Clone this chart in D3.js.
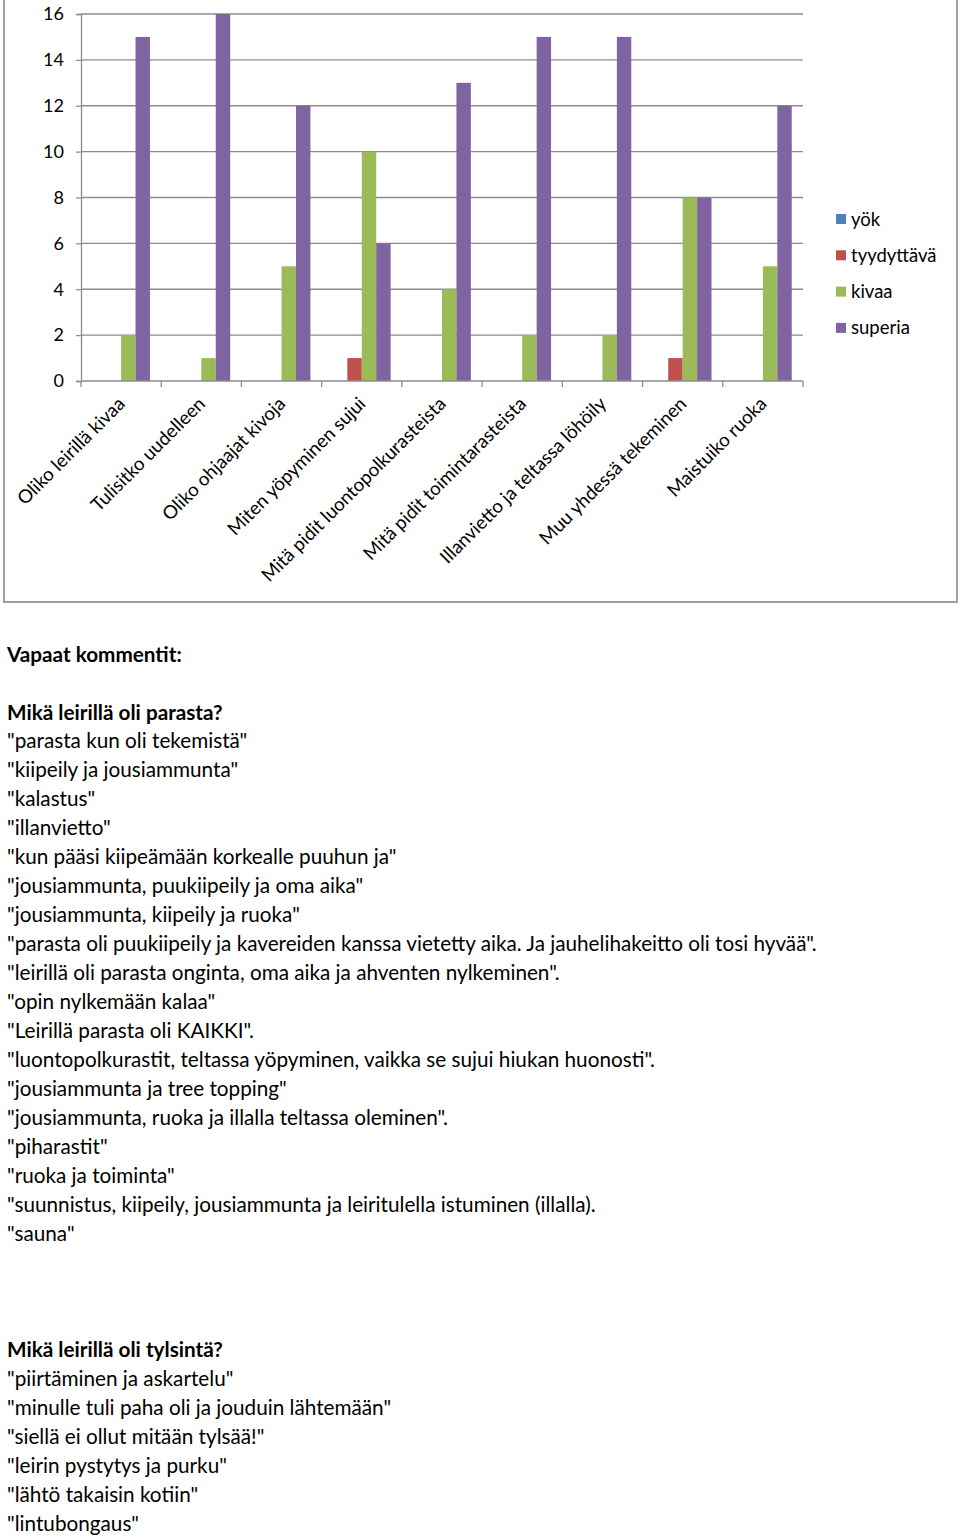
<!DOCTYPE html>
<html><head><meta charset="utf-8">
<script src="https://cdn.jsdelivr.net/npm/d3@7"></script>
<style>
html,body{margin:0;padding:0;background:#fff;}
svg{display:block;}
text{font-family:Lato,"Open Sans",sans-serif;fill:#000;}
</style></head>
<body>
<script>
const categories = ["Oliko leirillä kivaa","Tulisitko uudelleen","Oliko ohjaajat kivoja","Miten yöpyminen sujui","Mitä pidit luontopolkurasteista","Mitä pidit toimintarasteista","Illanvietto ja teltassa löhöily","Muu yhdessä tekeminen","Maistuiko ruoka"];
const seriesNames = ["yök","tyydyttävä","kivaa","superia"];
const yok        = [0,0,0,0,0,0,0,0,0];
const tyydyttava = [0,0,0,1,0,0,0,1,0];
const kivaa      = [2,1,5,10,4,2,2,8,5];
const superia    = [15,16,12,6,13,15,15,8,12];
const yTicks = [0,2,4,6,8,10,12,14,16];
const colors = ["#4F81BD","#C0504D","#9BBB59","#8064A2"];

const heading = "Vapaat kommentit:";
const q1 = "Mikä leirillä oli parasta?";
const answers1 = [
 "\"parasta kun oli tekemistä\"",
 "\"kiipeily ja jousiammunta\"",
 "\"kalastus\"",
 "\"illanvietto\"",
 "\"kun pääsi kiipeämään korkealle puuhun ja\"",
 "\"jousiammunta, puukiipeily ja oma aika\"",
 "\"jousiammunta, kiipeily ja ruoka\"",
 "\"parasta oli puukiipeily ja kavereiden kanssa vietetty aika. Ja jauhelihakeitto oli tosi hyvää\".",
 "\"leirillä oli parasta onginta, oma aika ja ahventen nylkeminen\".",
 "\"opin nylkemään kalaa\"",
 "\"Leirillä parasta oli KAIKKI\".",
 "\"luontopolkurastit, teltassa yöpyminen, vaikka se sujui hiukan huonosti\".",
 "\"jousiammunta ja tree topping\"",
 "\"jousiammunta, ruoka ja illalla teltassa oleminen\".",
 "\"piharastit\"",
 "\"ruoka ja toiminta\"",
 "\"suunnistus, kiipeily, jousiammunta ja leiritulella istuminen (illalla).",
 "\"sauna\""
];
const q2 = "Mikä leirillä oli tylsintä?";
const answers2 = [
 "\"piirtäminen ja askartelu\"",
 "\"minulle tuli paha oli ja jouduin lähtemään\"",
 "\"siellä ei ollut mitään tylsää!\"",
 "\"leirin pystytys ja purku\"",
 "\"lähtö takaisin kotiin\"",
 "\"lintubongaus\""
];

const data = categories.map((c,i)=>({cat:c, vals:[yok[i],tyydyttava[i],kivaa[i],superia[i]]}));

const W=960,H=1537;
const svg = d3.select("body").append("svg").attr("width",W).attr("height",H);

// chart frame
svg.append("rect").attr("x",4).attr("y",-3).attr("width",953).attr("height",605)
  .attr("fill","none").attr("stroke","#a0a0a0").attr("stroke-width",2);

const x0 = d3.scaleBand().domain(categories).range([81,803]).paddingInner(0).paddingOuter(0);
const x1 = d3.scaleBand().domain(seriesNames).range([0,x0.bandwidth()]).paddingInner(0).paddingOuter(0.78);
const y = d3.scaleLinear().domain([0,16]).range([381,14]);
const color = d3.scaleOrdinal().domain(seriesNames).range(colors);

// gridlines
svg.append("g").selectAll("line").data(yTicks.filter(t=>t>0)).join("line")
  .attr("x1",81).attr("x2",803).attr("y1",d=>y(d)).attr("y2",d=>y(d))
  .attr("stroke","#8c8c8c").attr("stroke-width",1.3);

// y axis
const yAxis = svg.append("g").attr("transform","translate(81,0)")
  .call(d3.axisLeft(y).tickValues(yTicks).tickSize(5).tickPadding(12));
yAxis.select(".domain").attr("stroke","#8c8c8c").attr("stroke-width",1.3);
yAxis.selectAll(".tick line").attr("stroke","#8c8c8c").attr("stroke-width",1.3);
yAxis.selectAll(".tick text").style("font-family","Lato,sans-serif").style("font-size","18px").attr("fill","#000");

// bars
const groups = svg.append("g").selectAll("g").data(data).join("g")
  .attr("transform",d=>`translate(${x0(d.cat)},0)`);
groups.selectAll("rect").data(d=>d.vals.map((v,j)=>({s:seriesNames[j],v}))).join("rect")
  .attr("x",d=>x1(d.s)).attr("width",x1.bandwidth())
  .attr("y",d=>y(d.v)).attr("height",d=>y(0)-y(d.v))
  .attr("fill",d=>color(d.s));

// x axis
const xAxisG = svg.append("g");
xAxisG.append("line").attr("x1",81).attr("x2",803).attr("y1",y(0)).attr("y2",y(0))
  .attr("stroke","#8c8c8c").attr("stroke-width",1.3);
const boundaries = categories.map(c=>x0(c)).concat([x0.range()[1]]);
xAxisG.selectAll("line.tk").data(boundaries).join("line").attr("class","tk")
  .attr("x1",d=>d).attr("x2",d=>d).attr("y1",y(0)).attr("y2",y(0)+6)
  .attr("stroke","#8c8c8c").attr("stroke-width",1.3);
xAxisG.selectAll("text").data(categories).join("text")
  .attr("transform",d=>`translate(${x0(d)+x0.bandwidth()/2+5},${y(0)+24}) rotate(-45)`)
  .attr("text-anchor","end")
  .style("font-size","18.7px")
  .text(d=>d);

// legend
const leg = svg.append("g").selectAll("g").data(seriesNames).join("g")
  .attr("transform",(d,i)=>`translate(836,${219+i*36.3})`);
leg.append("rect").attr("x",0).attr("y",-5).attr("width",10).attr("height",10).attr("fill",d=>color(d));
leg.append("text").attr("x",15).attr("y",6.5).style("font-size","18.5px").text(d=>d);

// text block
const tb = svg.append("g");
function line(txt, yc, bold, fs){
  return tb.append("text").attr("x",7).attr("y",yc+fs*0.36)
    .style("font-size",fs+"px").style("font-weight",bold?"700":"400").text(txt);
}
// determine font size so the long line spans ~810px
let fs = 20;
const probe = line(answers1[7], 0, false, fs);
const w = probe.node().getComputedTextLength();
probe.remove();
fs = fs*810/w;
line(heading,655,true,fs);
line(q1,713,true,fs);
answers1.forEach((t,k)=>line(t,741+29*k,false,fs));
line(q2,1350,true,fs);
answers2.forEach((t,k)=>line(t,1379+29*k,false,fs));
</script>
</body></html>
